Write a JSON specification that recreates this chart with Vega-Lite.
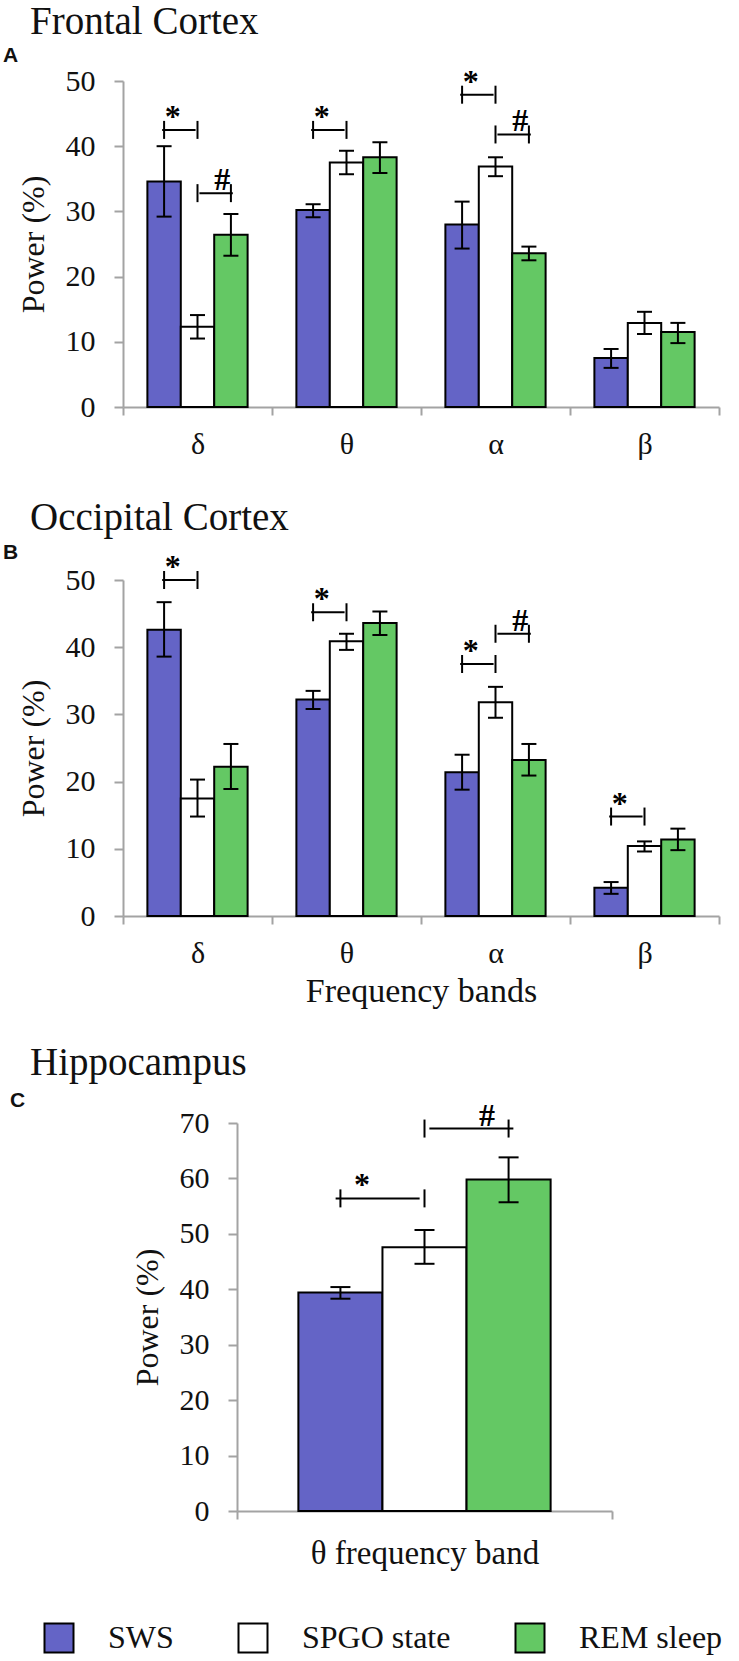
{
  "$schema": "https://vega.github.io/schema/vega-lite/v6.json",
  "background": "white",
  "padding": {"left": 3, "top": 2, "right": 0, "bottom": 0},
  "columns": 1,
  "spacing": 39,
  "datasets": {
    "frontal": [
      {"band": "δ", "state": "SWS", "power": 34.6, "lo": 29.2, "hi": 40.0},
      {"band": "δ", "state": "SPGO state", "power": 12.3, "lo": 10.5, "hi": 14.1},
      {"band": "δ", "state": "REM sleep", "power": 26.4, "lo": 23.2, "hi": 29.6},
      {"band": "θ", "state": "SWS", "power": 30.2, "lo": 29.1, "hi": 31.1},
      {"band": "θ", "state": "SPGO state", "power": 37.5, "lo": 35.7, "hi": 39.3},
      {"band": "θ", "state": "REM sleep", "power": 38.3, "lo": 35.9, "hi": 40.6},
      {"band": "α", "state": "SWS", "power": 28.0, "lo": 24.3, "hi": 31.5},
      {"band": "α", "state": "SPGO state", "power": 36.9, "lo": 35.4, "hi": 38.3},
      {"band": "α", "state": "REM sleep", "power": 23.6, "lo": 22.5, "hi": 24.6},
      {"band": "β", "state": "SWS", "power": 7.5, "lo": 6.0, "hi": 8.9},
      {"band": "β", "state": "SPGO state", "power": 12.9, "lo": 11.2, "hi": 14.6},
      {"band": "β", "state": "REM sleep", "power": 11.5, "lo": 9.8, "hi": 12.9}
    ],
    "frontalSig": [
      {"band": "δ", "pair": "SWS–SPGO", "from": "SWS", "to": "SPGO state", "level": 42.5, "sym": "*"},
      {"band": "δ", "pair": "SPGO–REM", "from": "SPGO state", "to": "REM sleep", "level": 32.8, "sym": "#"},
      {"band": "θ", "pair": "SWS–SPGO", "from": "SWS", "to": "SPGO state", "level": 42.5, "sym": "*"},
      {"band": "α", "pair": "SWS–SPGO", "from": "SWS", "to": "SPGO state", "level": 47.9, "sym": "*"},
      {"band": "α", "pair": "SPGO–REM", "from": "SPGO state", "to": "REM sleep", "level": 41.8, "sym": "#"}
    ],
    "occipital": [
      {"band": "δ", "state": "SWS", "power": 42.6, "lo": 38.6, "hi": 46.7},
      {"band": "δ", "state": "SPGO state", "power": 17.5, "lo": 14.8, "hi": 20.3},
      {"band": "δ", "state": "REM sleep", "power": 22.2, "lo": 18.9, "hi": 25.6},
      {"band": "θ", "state": "SWS", "power": 32.2, "lo": 30.8, "hi": 33.5},
      {"band": "θ", "state": "SPGO state", "power": 40.9, "lo": 39.6, "hi": 42.0},
      {"band": "θ", "state": "REM sleep", "power": 43.6, "lo": 41.8, "hi": 45.3},
      {"band": "α", "state": "SWS", "power": 21.4, "lo": 18.8, "hi": 24.0},
      {"band": "α", "state": "SPGO state", "power": 31.8, "lo": 29.5, "hi": 34.1},
      {"band": "α", "state": "REM sleep", "power": 23.2, "lo": 20.9, "hi": 25.6},
      {"band": "β", "state": "SWS", "power": 4.2, "lo": 3.3, "hi": 5.05},
      {"band": "β", "state": "SPGO state", "power": 10.4, "lo": 9.6, "hi": 11.1},
      {"band": "β", "state": "REM sleep", "power": 11.4, "lo": 9.8, "hi": 13.0}
    ],
    "occipitalSig": [
      {"band": "δ", "pair": "SWS–SPGO", "from": "SWS", "to": "SPGO state", "level": 50.0, "sym": "*"},
      {"band": "θ", "pair": "SWS–SPGO", "from": "SWS", "to": "SPGO state", "level": 45.2, "sym": "*"},
      {"band": "α", "pair": "SWS–SPGO", "from": "SWS", "to": "SPGO state", "level": 37.5, "sym": "*"},
      {"band": "α", "pair": "SPGO–REM", "from": "SPGO state", "to": "REM sleep", "level": 42.0, "sym": "#"},
      {"band": "β", "pair": "SWS–SPGO", "from": "SWS", "to": "SPGO state", "level": 14.8, "sym": "*"}
    ],
    "hippo": [
      {"band": "θ frequency band", "state": "SWS", "power": 39.4, "lo": 38.3, "hi": 40.4},
      {"band": "θ frequency band", "state": "SPGO state", "power": 47.6, "lo": 44.6, "hi": 50.7},
      {"band": "θ frequency band", "state": "REM sleep", "power": 59.8, "lo": 55.7, "hi": 63.8}
    ],
    "hippoSig": [
      {"band": "θ frequency band", "pair": "SWS–SPGO", "from": "SWS", "to": "SPGO state", "level": 56.4, "sym": "*"},
      {"band": "θ frequency band", "pair": "SPGO–REM", "from": "SPGO state", "to": "REM sleep", "level": 69.0, "sym": "#"}
    ]
  },
  "concat": [
    {
      "title": {"text": "Frontal Cortex", "dx": -93, "offset": 3},
      "hconcat": [
        {
          "width": 596,
          "height": 326,
          "title": {"text": "A", "font": "Liberation Sans", "fontSize": 21, "fontWeight": "bold", "dx": -120, "offset": 0},
          "encoding": {
            "x": {"field": "band", "type": "nominal", "sort": null, "title": null,
              "scale": {"domain": ["δ", "θ", "α", "β"], "paddingInner": 0, "paddingOuter": 0},
              "axis": {"tickBand": "extent", "labelPadding": 14}}
          },
          "layer": [
            {"data": {"name": "frontal"}, "mark": {"type": "bar", "stroke": "black", "strokeWidth": 2},
              "encoding": {
                "xOffset": {"field": "state", "type": "nominal", "scale": {"domain": ["SWS", "SPGO state", "REM sleep"], "paddingInner": 0, "paddingOuter": 0.73}},
                "y": {"field": "power", "type": "quantitative", "title": "Power (%)", "scale": {"domain": [0, 50], "nice": false}, "axis": {"values": [0, 10, 20, 30, 40, 50]}},
                "color": {"field": "state", "type": "nominal", "scale": {"domain": ["SWS", "SPGO state", "REM sleep"], "range": ["#6464C6", "#FFFFFF", "#64C864"]}}
              }},
            {"data": {"name": "frontal"}, "mark": {"type": "rule", "color": "black", "strokeWidth": 2},
              "encoding": {
                "xOffset": {"field": "state", "type": "nominal", "scale": {"domain": ["SWS", "SPGO state", "REM sleep"], "paddingInner": 0, "paddingOuter": 0.73}},
                "y": {"field": "lo", "type": "quantitative", "title": "Power (%)", "scale": {"domain": [0, 50], "nice": false}, "axis": {"values": [0, 10, 20, 30, 40, 50]}},
                "y2": {"field": "hi"}
              }},
            {"data": {"name": "frontal"}, "mark": {"type": "tick", "color": "black", "opacity": 1, "size": 15, "thickness": 2, "orient": "horizontal"},
              "encoding": {
                "xOffset": {"field": "state", "type": "nominal", "scale": {"domain": ["SWS", "SPGO state", "REM sleep"], "paddingInner": 0, "paddingOuter": 0.73}},
                "y": {"field": "lo", "type": "quantitative", "title": "Power (%)", "scale": {"domain": [0, 50], "nice": false}, "axis": {"values": [0, 10, 20, 30, 40, 50]}}
              }},
            {"data": {"name": "frontal"}, "mark": {"type": "tick", "color": "black", "opacity": 1, "size": 15, "thickness": 2, "orient": "horizontal"},
              "encoding": {
                "xOffset": {"field": "state", "type": "nominal", "scale": {"domain": ["SWS", "SPGO state", "REM sleep"], "paddingInner": 0, "paddingOuter": 0.73}},
                "y": {"field": "hi", "type": "quantitative", "title": "Power (%)", "scale": {"domain": [0, 50], "nice": false}, "axis": {"values": [0, 10, 20, 30, 40, 50]}}
              }},
            {"data": {"name": "frontalSig"}, "mark": {"type": "tick", "color": "black", "opacity": 1, "size": 33.4, "thickness": 2, "orient": "horizontal"},
              "encoding": {
                "xOffset": {"field": "pair", "type": "nominal", "scale": {"domain": ["SWS–SPGO", "SPGO–REM"], "paddingInner": 0, "paddingOuter": 1.23}},
                "y": {"field": "level", "type": "quantitative", "title": "Power (%)", "scale": {"domain": [0, 50], "nice": false}, "axis": {"values": [0, 10, 20, 30, 40, 50]}}
              }},
            {"data": {"name": "frontalSig"}, "mark": {"type": "tick", "color": "black", "opacity": 1, "size": 18, "thickness": 2, "orient": "vertical"},
              "encoding": {
                "xOffset": {"field": "from", "type": "nominal", "scale": {"domain": ["SWS", "SPGO state", "REM sleep"], "paddingInner": 0, "paddingOuter": 0.73}},
                "y": {"field": "level", "type": "quantitative", "title": "Power (%)", "scale": {"domain": [0, 50], "nice": false}, "axis": {"values": [0, 10, 20, 30, 40, 50]}}
              }},
            {"data": {"name": "frontalSig"}, "mark": {"type": "tick", "color": "black", "opacity": 1, "size": 18, "thickness": 2, "orient": "vertical"},
              "encoding": {
                "xOffset": {"field": "to", "type": "nominal", "scale": {"domain": ["SWS", "SPGO state", "REM sleep"], "paddingInner": 0, "paddingOuter": 0.73}},
                "y": {"field": "level", "type": "quantitative", "title": "Power (%)", "scale": {"domain": [0, 50], "nice": false}, "axis": {"values": [0, 10, 20, 30, 40, 50]}}
              }},
            {"data": {"name": "frontalSig"}, "mark": {"type": "text", "font": "Liberation Serif", "fontSize": 32, "fontWeight": "bold", "baseline": "alphabetic", "dy": -3, "color": "black"},
              "encoding": {
                "xOffset": {"field": "pair", "type": "nominal", "scale": {"domain": ["SWS–SPGO", "SPGO–REM"], "paddingInner": 0, "paddingOuter": 1.23}},
                "y": {"field": "level", "type": "quantitative", "title": "Power (%)", "scale": {"domain": [0, 50], "nice": false}, "axis": {"values": [0, 10, 20, 30, 40, 50]}},
                "text": {"field": "sym"}
              }}
          ],
          "resolve": {"scale": {"xOffset": "independent"}}
        }
      ]
    },
    {
      "spacing": 36,
      "vconcat": [
        {
          "title": {"text": "Occipital Cortex", "dx": -93, "offset": 4},
          "hconcat": [
            {
              "width": 596,
              "height": 336,
              "title": {"text": "B", "font": "Liberation Sans", "fontSize": 21, "fontWeight": "bold", "dx": -120, "offset": -11.5},
              "encoding": {
                "x": {"field": "band", "type": "nominal", "sort": null, "title": "Frequency bands",
                  "scale": {"domain": ["δ", "θ", "α", "β"], "paddingInner": 0, "paddingOuter": 0},
                  "axis": {"tickBand": "extent", "labelPadding": 14}}
              },
              "layer": [
                {"data": {"name": "occipital"}, "mark": {"type": "bar", "stroke": "black", "strokeWidth": 2},
                  "encoding": {
                    "xOffset": {"field": "state", "type": "nominal", "scale": {"domain": ["SWS", "SPGO state", "REM sleep"], "paddingInner": 0, "paddingOuter": 0.73}},
                    "y": {"field": "power", "type": "quantitative", "title": "Power (%)", "scale": {"domain": [0, 50], "nice": false}, "axis": {"values": [0, 10, 20, 30, 40, 50]}},
                    "color": {"field": "state", "type": "nominal", "scale": {"domain": ["SWS", "SPGO state", "REM sleep"], "range": ["#6464C6", "#FFFFFF", "#64C864"]}}
                  }},
                {"data": {"name": "occipital"}, "mark": {"type": "rule", "color": "black", "strokeWidth": 2},
                  "encoding": {
                    "xOffset": {"field": "state", "type": "nominal", "scale": {"domain": ["SWS", "SPGO state", "REM sleep"], "paddingInner": 0, "paddingOuter": 0.73}},
                    "y": {"field": "lo", "type": "quantitative", "title": "Power (%)", "scale": {"domain": [0, 50], "nice": false}, "axis": {"values": [0, 10, 20, 30, 40, 50]}},
                    "y2": {"field": "hi"}
                  }},
                {"data": {"name": "occipital"}, "mark": {"type": "tick", "color": "black", "opacity": 1, "size": 15, "thickness": 2, "orient": "horizontal"},
                  "encoding": {
                    "xOffset": {"field": "state", "type": "nominal", "scale": {"domain": ["SWS", "SPGO state", "REM sleep"], "paddingInner": 0, "paddingOuter": 0.73}},
                    "y": {"field": "lo", "type": "quantitative", "title": "Power (%)", "scale": {"domain": [0, 50], "nice": false}, "axis": {"values": [0, 10, 20, 30, 40, 50]}}
                  }},
                {"data": {"name": "occipital"}, "mark": {"type": "tick", "color": "black", "opacity": 1, "size": 15, "thickness": 2, "orient": "horizontal"},
                  "encoding": {
                    "xOffset": {"field": "state", "type": "nominal", "scale": {"domain": ["SWS", "SPGO state", "REM sleep"], "paddingInner": 0, "paddingOuter": 0.73}},
                    "y": {"field": "hi", "type": "quantitative", "title": "Power (%)", "scale": {"domain": [0, 50], "nice": false}, "axis": {"values": [0, 10, 20, 30, 40, 50]}}
                  }},
                {"data": {"name": "occipitalSig"}, "mark": {"type": "tick", "color": "black", "opacity": 1, "size": 33.4, "thickness": 2, "orient": "horizontal"},
                  "encoding": {
                    "xOffset": {"field": "pair", "type": "nominal", "scale": {"domain": ["SWS–SPGO", "SPGO–REM"], "paddingInner": 0, "paddingOuter": 1.23}},
                    "y": {"field": "level", "type": "quantitative", "title": "Power (%)", "scale": {"domain": [0, 50], "nice": false}, "axis": {"values": [0, 10, 20, 30, 40, 50]}}
                  }},
                {"data": {"name": "occipitalSig"}, "mark": {"type": "tick", "color": "black", "opacity": 1, "size": 18, "thickness": 2, "orient": "vertical"},
                  "encoding": {
                    "xOffset": {"field": "from", "type": "nominal", "scale": {"domain": ["SWS", "SPGO state", "REM sleep"], "paddingInner": 0, "paddingOuter": 0.73}},
                    "y": {"field": "level", "type": "quantitative", "title": "Power (%)", "scale": {"domain": [0, 50], "nice": false}, "axis": {"values": [0, 10, 20, 30, 40, 50]}}
                  }},
                {"data": {"name": "occipitalSig"}, "mark": {"type": "tick", "color": "black", "opacity": 1, "size": 18, "thickness": 2, "orient": "vertical"},
                  "encoding": {
                    "xOffset": {"field": "to", "type": "nominal", "scale": {"domain": ["SWS", "SPGO state", "REM sleep"], "paddingInner": 0, "paddingOuter": 0.73}},
                    "y": {"field": "level", "type": "quantitative", "title": "Power (%)", "scale": {"domain": [0, 50], "nice": false}, "axis": {"values": [0, 10, 20, 30, 40, 50]}}
                  }},
                {"data": {"name": "occipitalSig"}, "mark": {"type": "text", "font": "Liberation Serif", "fontSize": 32, "fontWeight": "bold", "baseline": "alphabetic", "dy": -3, "color": "black"},
                  "encoding": {
                    "xOffset": {"field": "pair", "type": "nominal", "scale": {"domain": ["SWS–SPGO", "SPGO–REM"], "paddingInner": 0, "paddingOuter": 1.23}},
                    "y": {"field": "level", "type": "quantitative", "title": "Power (%)", "scale": {"domain": [0, 50], "nice": false}, "axis": {"values": [0, 10, 20, 30, 40, 50]}},
                    "text": {"field": "sym"}
                  }}
              ],
              "resolve": {"scale": {"xOffset": "independent"}}
            }
          ]
        },
        {
          "title": {"text": "Hippocampus", "dx": -93, "offset": 7},
          "spacing": 0,
          "hconcat": [
            {
              "width": 8,
              "height": 10,
              "title": {"text": "C", "font": "Liberation Sans", "fontSize": 21, "fontWeight": "bold", "dx": -113, "offset": 12},
              "view": {"fill": "white", "stroke": null},
              "data": {"values": []},
              "mark": "point"
            },
            {
              "width": 375,
              "height": 388,
              "encoding": {
                "x": {"field": "band", "type": "nominal", "sort": null, "title": null,
                  "scale": {"domain": ["θ frequency band"], "paddingInner": 0, "paddingOuter": 0},
                  "axis": {"tickBand": "extent", "labelPadding": 18, "labelFontSize": 33, "labelLimit": 400}}
              },
              "layer": [
                {"data": {"name": "hippo"}, "mark": {"type": "bar", "stroke": "black", "strokeWidth": 2},
                  "encoding": {
                    "xOffset": {"field": "state", "type": "nominal", "scale": {"domain": ["SWS", "SPGO state", "REM sleep"], "paddingInner": 0, "paddingOuter": 0.73}},
                    "y": {"field": "power", "type": "quantitative", "title": "Power (%)", "scale": {"domain": [0, 70], "nice": false}, "axis": {"values": [0, 10, 20, 30, 40, 50, 60, 70]}},
                    "color": {"field": "state", "type": "nominal", "scale": {"domain": ["SWS", "SPGO state", "REM sleep"], "range": ["#6464C6", "#FFFFFF", "#64C864"]}}
                  }},
                {"data": {"name": "hippo"}, "mark": {"type": "rule", "color": "black", "strokeWidth": 2},
                  "encoding": {
                    "xOffset": {"field": "state", "type": "nominal", "scale": {"domain": ["SWS", "SPGO state", "REM sleep"], "paddingInner": 0, "paddingOuter": 0.73}},
                    "y": {"field": "lo", "type": "quantitative", "title": "Power (%)", "scale": {"domain": [0, 70], "nice": false}, "axis": {"values": [0, 10, 20, 30, 40, 50, 60, 70]}},
                    "y2": {"field": "hi"}
                  }},
                {"data": {"name": "hippo"}, "mark": {"type": "tick", "color": "black", "opacity": 1, "size": 20, "thickness": 2, "orient": "horizontal"},
                  "encoding": {
                    "xOffset": {"field": "state", "type": "nominal", "scale": {"domain": ["SWS", "SPGO state", "REM sleep"], "paddingInner": 0, "paddingOuter": 0.73}},
                    "y": {"field": "lo", "type": "quantitative", "title": "Power (%)", "scale": {"domain": [0, 70], "nice": false}, "axis": {"values": [0, 10, 20, 30, 40, 50, 60, 70]}}
                  }},
                {"data": {"name": "hippo"}, "mark": {"type": "tick", "color": "black", "opacity": 1, "size": 20, "thickness": 2, "orient": "horizontal"},
                  "encoding": {
                    "xOffset": {"field": "state", "type": "nominal", "scale": {"domain": ["SWS", "SPGO state", "REM sleep"], "paddingInner": 0, "paddingOuter": 0.73}},
                    "y": {"field": "hi", "type": "quantitative", "title": "Power (%)", "scale": {"domain": [0, 70], "nice": false}, "axis": {"values": [0, 10, 20, 30, 40, 50, 60, 70]}}
                  }},
                {"data": {"name": "hippoSig"}, "mark": {"type": "tick", "color": "black", "opacity": 1, "size": 84, "thickness": 2, "orient": "horizontal"},
                  "encoding": {
                    "xOffset": {"field": "pair", "type": "nominal", "scale": {"domain": ["SWS–SPGO", "SPGO–REM"], "paddingInner": 0, "paddingOuter": 1.23}},
                    "y": {"field": "level", "type": "quantitative", "title": "Power (%)", "scale": {"domain": [0, 70], "nice": false}, "axis": {"values": [0, 10, 20, 30, 40, 50, 60, 70]}}
                  }},
                {"data": {"name": "hippoSig"}, "mark": {"type": "tick", "color": "black", "opacity": 1, "size": 18, "thickness": 2, "orient": "vertical"},
                  "encoding": {
                    "xOffset": {"field": "from", "type": "nominal", "scale": {"domain": ["SWS", "SPGO state", "REM sleep"], "paddingInner": 0, "paddingOuter": 0.73}},
                    "y": {"field": "level", "type": "quantitative", "title": "Power (%)", "scale": {"domain": [0, 70], "nice": false}, "axis": {"values": [0, 10, 20, 30, 40, 50, 60, 70]}}
                  }},
                {"data": {"name": "hippoSig"}, "mark": {"type": "tick", "color": "black", "opacity": 1, "size": 18, "thickness": 2, "orient": "vertical"},
                  "encoding": {
                    "xOffset": {"field": "to", "type": "nominal", "scale": {"domain": ["SWS", "SPGO state", "REM sleep"], "paddingInner": 0, "paddingOuter": 0.73}},
                    "y": {"field": "level", "type": "quantitative", "title": "Power (%)", "scale": {"domain": [0, 70], "nice": false}, "axis": {"values": [0, 10, 20, 30, 40, 50, 60, 70]}}
                  }},
                {"data": {"name": "hippoSig"}, "mark": {"type": "text", "font": "Liberation Serif", "fontSize": 32, "fontWeight": "bold", "baseline": "alphabetic", "dy": -3, "color": "black"},
                  "encoding": {
                    "xOffset": {"field": "pair", "type": "nominal", "scale": {"domain": ["SWS–SPGO", "SPGO–REM"], "paddingInner": 0, "paddingOuter": 1.23}},
                    "y": {"field": "level", "type": "quantitative", "title": "Power (%)", "scale": {"domain": [0, 70], "nice": false}, "axis": {"values": [0, 10, 20, 30, 40, 50, 60, 70]}},
                    "text": {"field": "sym"}
                  }}
              ],
              "resolve": {"scale": {"xOffset": "independent"}}
            }
          ]
        }
      ]
    }
  ],
  "config": {
    "view": {"stroke": null},
    "title": {"font": "Liberation Serif", "fontSize": 39, "fontWeight": "normal", "color": "#111111", "anchor": "start", "frame": "group"},
    "legend": {"orient": "none", "legendX": -80, "legendY": 1541, "direction": "horizontal", "gridAlign": "none", "title": null, "symbolType": "square", "symbolSize": 841,
      "symbolStrokeColor": "black", "symbolStrokeWidth": 2, "symbolOpacity": 1, "labelFont": "Liberation Serif", "labelFontSize": 32,
      "labelColor": "#111111", "labelOffset": 33, "columnPadding": 60, "padding": 0, "labelLimit": 400},
    "axis": {"domainColor": "#a3a3a3", "tickColor": "#a3a3a3", "domainWidth": 2, "tickWidth": 2, "grid": false,
      "labelFont": "Liberation Serif", "labelFontSize": 30, "labelColor": "#111111",
      "titleFont": "Liberation Serif", "titleFontSize": 32, "titleFontWeight": "normal", "titleColor": "#111111"},
    "axisY": {"tickSize": 9, "labelPadding": 19, "titlePadding": 15},
    "axisX": {"tickSize": 8, "labelAngle": 0, "titlePadding": 6, "titleFontSize": 34}
  }
}
